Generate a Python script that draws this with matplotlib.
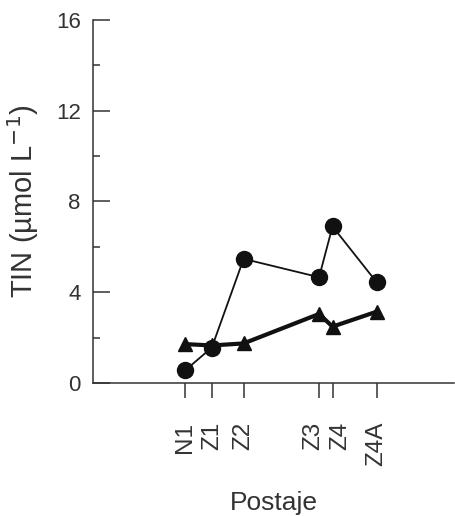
import matplotlib
matplotlib.use("Agg")
import matplotlib.pyplot as plt
from matplotlib.ticker import MultipleLocator
from matplotlib.transforms import ScaledTranslation

plt.rcParams['font.family'] = ['Liberation Sans', 'DejaVu Sans']

stations = ["N1", "Z1", "Z2", "Z3", "Z4", "Z4A"]
station_pos = [9.17, 11.83, 15.0, 22.53, 23.87, 28.27]
tin_circles = [0.55, 1.56, 5.47, 4.66, 6.9, 4.44]
tin_triangles = [1.71, 1.65, 1.74, 3.04, 2.48, 3.14]

# horizontal nudges (points) so close station labels don't collide
label_shift = [0, 0, 0, -4.5, 5.5, 0]

fig = plt.figure(figsize=(4.55, 5.16), dpi=100)
ax = fig.add_axes([0.205, 0.258, 0.793, 0.703])

ax.plot(station_pos, tin_triangles, color='#111111', lw=3.0, marker='^',
        ms=10, zorder=2)
ax.plot(station_pos, tin_circles, color='#111111', lw=1.3, marker='o',
        ms=11.5, zorder=3)

ax.set_xlim(0, 36)
ax.set_ylim(0, 16)
ax.set_xticks(station_pos)
ax.set_xticklabels(stations, rotation=90)
ax.yaxis.set_major_locator(MultipleLocator(4))
ax.yaxis.set_minor_locator(MultipleLocator(2))

for side in ("top", "right"):
    ax.spines[side].set_visible(False)
for side in ("left", "bottom"):
    ax.spines[side].set_linewidth(1.1)
    ax.spines[side].set_color('#333333')

ax.tick_params(axis='y', direction='in', length=12, width=1.1, pad=9,
               labelsize=16, colors='#333333')
ax.tick_params(axis='y', which='minor', direction='in', length=5, width=1.1,
               colors='#333333')
ax.tick_params(axis='x', direction='out', length=11, width=1.1, pad=17,
               labelsize=17.5, colors='#333333')

for lbl, dx in zip(ax.get_xticklabels(), label_shift):
    if dx:
        lbl.set_transform(lbl.get_transform() +
                          ScaledTranslation(dx / 72, 0, fig.dpi_scale_trans))

ax.set_ylabel("TIN (µmol L$^{-1}$)", fontsize=21, color='#333333')
ax.yaxis.set_label_coords(-0.145, 0.5)
ax.set_xlabel("Postaje", fontsize=19, color='#333333', labelpad=18)

fig.savefig("out.png", dpi=100)
